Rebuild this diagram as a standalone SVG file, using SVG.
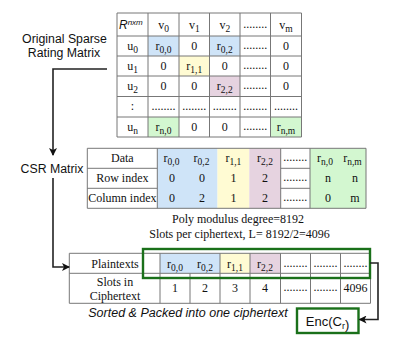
<svg xmlns="http://www.w3.org/2000/svg" width="398" height="348" viewBox="0 0 398 348">
<style>
.s{font-family:"Liberation Serif","Times New Roman",serif;font-size:12px;fill:#111;text-anchor:middle}
.s tspan{font-size:9.5px}
.a{font-family:"Liberation Sans",Arial,sans-serif;font-size:12.3px;fill:#111;text-anchor:middle}
.g{stroke:#777;stroke-width:1;fill:none}
.c{stroke:#222;stroke-width:1.6;fill:none}
.gb{stroke:#1a701a;stroke-width:2.4;fill:none}
.blue{fill:#cfe4f8}.yel{fill:#fffbd3}.pink{fill:#e6d3e0}.grn{fill:#d3f7d0}
</style>
<defs>
<marker id="ah" markerWidth="8" markerHeight="8" refX="7" refY="4" orient="auto" markerUnits="userSpaceOnUse">
<path d="M0,0 L8,4 L0,8 L2,4 Z" fill="#111"/>
</marker>
</defs>

<text class="a" x="64.5" y="43">Original Sparse</text>
<text class="a" x="64" y="57">Rating Matrix</text>
<text class="a" x="52" y="173">CSR Matrix</text>

<g id="matrix">
<rect class="blue" x="148" y="36" width="31" height="20"/>
<rect class="blue" x="209.5" y="36" width="30.5" height="20"/>
<rect class="yel" x="179" y="56" width="30.5" height="20"/>
<rect class="pink" x="209.5" y="76" width="30.5" height="20.5"/>
<rect class="grn" x="148" y="117" width="31" height="20"/>
<rect class="grn" x="270.5" y="117" width="31" height="20"/>
<path class="g" d="M117,13H301.5V137H117Z M117,36H301.5 M117,56H301.5 M117,76H301.5 M117,96.5H301.5 M117,117H301.5 M148,13V137 M179,13V137 M209.5,13V137 M240,13V137 M270.5,13V137"/>
<text x="119" y="29" style="font-family:'Liberation Sans',Arial,sans-serif;font-style:italic;font-size:12px;fill:#111">R<tspan font-size="8" dy="-4">nxm</tspan></text>
<text class="s" x="163.5" y="29">v<tspan dy="3">0</tspan></text>
<text class="s" x="194.25" y="29">v<tspan dy="3">1</tspan></text>
<text class="s" x="224.75" y="29">v<tspan dy="3">2</tspan></text>
<text class="s" x="255.25" y="28">........</text>
<text class="s" x="286" y="29">v<tspan dy="3">m</tspan></text>

<text class="s" x="132.5" y="50">u<tspan dy="3">0</tspan></text>
<text class="s" x="163.5" y="50">r<tspan dy="3">0,0</tspan></text>
<text class="s" x="194.25" y="50">0</text>
<text class="s" x="224.75" y="50">r<tspan dy="3">0,2</tspan></text>
<text class="s" x="255.25" y="49">........</text>
<text class="s" x="286" y="50">0</text>

<text class="s" x="132.5" y="70">u<tspan dy="3">1</tspan></text>
<text class="s" x="163.5" y="70">0</text>
<text class="s" x="194.25" y="70">r<tspan dy="3">1,1</tspan></text>
<text class="s" x="224.75" y="70">0</text>
<text class="s" x="255.25" y="69">........</text>
<text class="s" x="286" y="70">0</text>

<text class="s" x="132.5" y="90">u<tspan dy="3">2</tspan></text>
<text class="s" x="163.5" y="90">0</text>
<text class="s" x="194.25" y="90">0</text>
<text class="s" x="224.75" y="90">r<tspan dy="3">2,2</tspan></text>
<text class="s" x="255.25" y="89">........</text>
<text class="s" x="286" y="90">0</text>

<text class="s" x="132.5" y="110">:</text>
<text class="s" x="163.5" y="110">........</text>
<text class="s" x="194.25" y="110">........</text>
<text class="s" x="224.75" y="110">........</text>
<text class="s" x="255.25" y="110">........</text>
<text class="s" x="286" y="110">........</text>

<text class="s" x="132.5" y="131">u<tspan dy="3">n</tspan></text>
<text class="s" x="163.5" y="131">r<tspan dy="3">n,0</tspan></text>
<text class="s" x="194.25" y="131">0</text>
<text class="s" x="224.75" y="131">0</text>
<text class="s" x="255.25" y="130">........</text>
<text class="s" x="286" y="131">r<tspan dy="3">n,m</tspan></text>
</g>

<g id="csr">
<rect class="blue" x="157.3" y="148.3" width="60.2" height="60"/>
<rect class="yel" x="217.5" y="148.3" width="31.8" height="60"/>
<rect class="pink" x="249.3" y="148.3" width="31.4" height="60"/>
<rect class="grn" x="310" y="148.3" width="56" height="60"/>
<path class="g" d="M87.3,148.3H366V208.3H87.3Z M87.3,168.3H157.3 M87.3,188.3H157.3 M280.7,168.3H310 M280.7,188.3H310 M157.3,148.3V208.3 M280.7,148.3V208.3 M310,148.3V208.3"/>
<text class="s" x="122.3" y="162">Data</text>
<text class="s" x="122.3" y="182">Row index</text>
<text class="s" x="122.3" y="202">Column index</text>
<text class="s" x="171.5" y="162">r<tspan dy="3">0,0</tspan></text>
<text class="s" x="201.5" y="162">r<tspan dy="3">0,2</tspan></text>
<text class="s" x="233.4" y="162">r<tspan dy="3">1,1</tspan></text>
<text class="s" x="265" y="162">r<tspan dy="3">2,2</tspan></text>
<text class="s" x="295.3" y="161">........</text>
<text class="s" x="325" y="162">r<tspan dy="3">n,0</tspan></text>
<text class="s" x="352.5" y="162">r<tspan dy="3">n,m</tspan></text>
<text class="s" x="172" y="182">0</text>
<text class="s" x="202" y="182">0</text>
<text class="s" x="233.4" y="182">1</text>
<text class="s" x="265" y="182">2</text>
<text class="s" x="295.3" y="181">........</text>
<text class="s" x="328" y="182">n</text>
<text class="s" x="355" y="182">n</text>
<text class="s" x="172" y="202">0</text>
<text class="s" x="202" y="202">2</text>
<text class="s" x="233.4" y="202">1</text>
<text class="s" x="265" y="202">2</text>
<text class="s" x="295.3" y="201">........</text>
<text class="s" x="328" y="202">0</text>
<text class="s" x="355" y="202">m</text>
</g>

<text class="s" x="238" y="223">Poly modulus degree=8192</text>
<text class="s" x="239.5" y="238">Slots per ciphertext, L= 8192/2=4096</text>

<g id="packed">
<rect class="blue" x="160" y="253.3" width="60" height="20"/>
<rect class="yel" x="220" y="253.3" width="30" height="20"/>
<rect class="pink" x="250" y="253.3" width="30.5" height="20"/>
<path class="g" d="M69.3,253.3H370.5V303.3H69.3Z M69.3,273.3H370.5 M160,253.3V303.3 M190,273.3V303.3 M220,253.3V303.3 M250,253.3V303.3 M280.5,253.3V303.3 M310.5,253.3V303.3 M340.5,253.3V303.3"/>
<text class="s" x="115" y="268">Plaintexts</text>
<text class="s" x="115" y="285.5">Slots in</text>
<text class="s" x="115" y="300">Ciphertext</text>
<text class="s" x="175" y="268">r<tspan dy="3">0,0</tspan></text>
<text class="s" x="205" y="268">r<tspan dy="3">0,2</tspan></text>
<text class="s" x="235" y="268">r<tspan dy="3">1,1</tspan></text>
<text class="s" x="265" y="268">r<tspan dy="3">2,2</tspan></text>
<text class="s" x="295.5" y="267">........</text>
<text class="s" x="325.5" y="267">........</text>
<text class="s" x="355.5" y="267">........</text>
<text class="s" x="175" y="292">1</text>
<text class="s" x="205" y="292">2</text>
<text class="s" x="235" y="292">3</text>
<text class="s" x="265" y="292">4</text>
<text class="s" x="295.5" y="291">........</text>
<text class="s" x="325.5" y="291">........</text>
<text class="s" x="355.5" y="292">4096</text>
<rect class="gb" x="143" y="249" width="227" height="29"/>
</g>

<text x="188" y="317" class="a" style="font-style:italic;font-size:12.5px">Sorted &amp; Packed into one ciphertext</text>

<g id="enc">
<rect class="gb" x="297" y="308.5" width="61.5" height="24.5" fill="#fff"/>
<text class="a" x="327.5" y="325.5" style="font-size:13px">Enc(C<tspan font-size="9" dy="3">r</tspan>)</text>
</g>

<g id="connectors">
<path class="c" d="M107,69H53V155" marker-end="url(#ah)"/>
<path class="c" d="M53,178V267H69" marker-end="url(#ah)"/>
<path class="c" d="M370,263H378V319.5H359.5" marker-end="url(#ah)"/>
</g>
</svg>
